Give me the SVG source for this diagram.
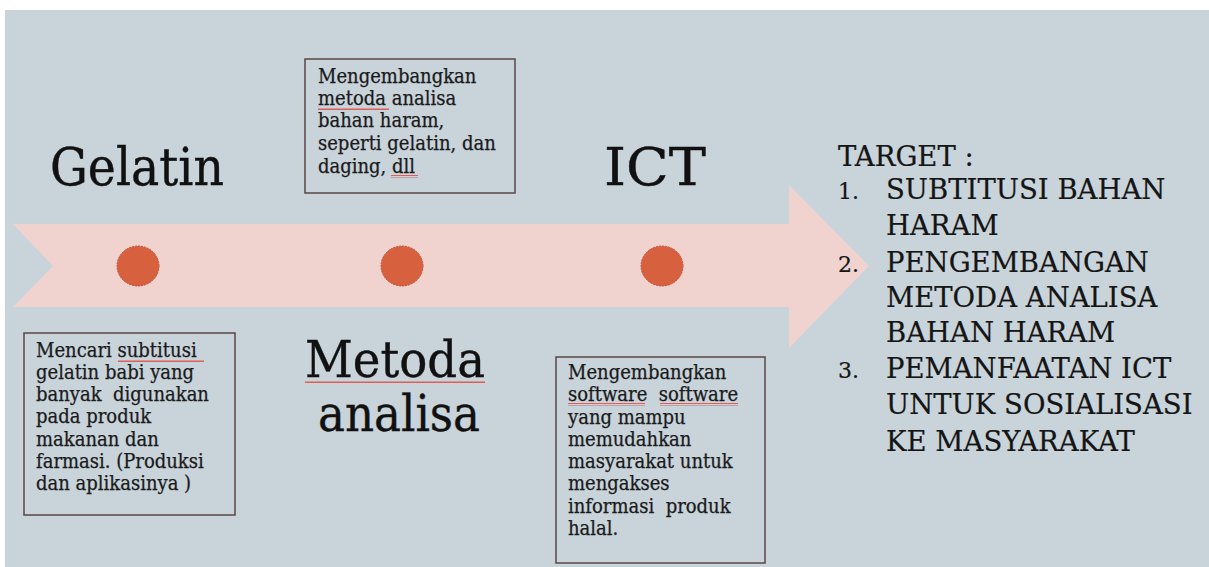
<svg xmlns="http://www.w3.org/2000/svg" width="1209" height="567" viewBox="0 0 1209 567">
<style>
.big{font-family:"DejaVu Serif","Liberation Serif",serif;fill:#111;stroke:#111;stroke-width:0.4;}
.box{fill:none;stroke:#5b4744;stroke-width:1.5;}
.bt{font-family:"DejaVu Serif Condensed","DejaVu Serif","Liberation Serif",serif;font-stretch:condensed;font-size:20px;fill:#1a1a1a;stroke:#1a1a1a;stroke-width:0.25;white-space:pre;}
.tg{font-family:"DejaVu Serif","Liberation Serif",serif;font-size:27.5px;fill:#151515;stroke:#151515;stroke-width:0.2;white-space:pre;}
.num{font-size:22px;}
.dot{fill:#d7603f;stroke:#c4553a;stroke-width:1;stroke-dasharray:2 1;}
.wave{fill:none;stroke:#e04a45;stroke-width:1;}
</style>
<defs>
<pattern id="wv" width="4" height="3" patternUnits="userSpaceOnUse"><path d="M0,2 L1,0.5 L2,2 L3,0.5 L4,2" class="wave"/></pattern>
</defs>
<rect x="0" y="0" width="1209" height="567" fill="#ffffff"/>
<rect x="5" y="10" width="1204" height="557" fill="#c8d3da"/>
<g id="arrow">
<polygon points="13,224 789,224 789,185 869,266 789,348 789,307 13,307 53,266" fill="#f0d3cf"/>
</g>
<g id="dots">
<ellipse class="dot" cx="138" cy="266" rx="21" ry="20"/>
<ellipse class="dot" cx="402" cy="266" rx="21" ry="20"/>
<ellipse class="dot" cx="662" cy="266" rx="21" ry="20"/>
</g>
<g id="label-gelatin"><text class="big" x="50" y="185" font-size="52" textLength="174" lengthAdjust="spacingAndGlyphs">Gelatin</text></g>
<g id="label-ict"><text class="big" x="604" y="185" font-size="52" textLength="102" lengthAdjust="spacingAndGlyphs">ICT</text></g>
<g id="label-metoda">
<text class="big" x="305" y="377" font-size="51" textLength="180" lengthAdjust="spacingAndGlyphs">Metoda</text>
<text class="big" x="318" y="431" font-size="51" textLength="162" lengthAdjust="spacingAndGlyphs">analisa</text>
<rect x="305" y="381" width="180" height="3" fill="url(#wv)"/>
</g>
<g id="box-analisa">
<rect class="box" x="305" y="59" width="210" height="134"/>
<text class="bt" x="318" y="83">Mengembangkan</text>
<text class="bt" x="318" y="105">metoda analisa</text>
<text class="bt" x="318" y="127">bahan haram,</text>
<text class="bt" x="318" y="150">seperti gelatin, dan</text>
<text class="bt" x="318" y="173">daging, dll</text>
<rect x="318" y="107" width="71" height="3" fill="url(#wv)"/>
<rect x="391" y="175" width="27" height="3" fill="url(#wv)"/>
</g>
<g id="box-gelatin">
<rect class="box" x="24" y="333" width="211" height="182"/>
<text class="bt" x="36" y="357">Mencari subtitusi</text>
<text class="bt" x="36" y="379">gelatin babi yang</text>
<text class="bt" x="36" y="401">banyak  digunakan</text>
<text class="bt" x="36" y="423">pada produk</text>
<text class="bt" x="36" y="446">makanan dan</text>
<text class="bt" x="36" y="468">farmasi. (Produksi</text>
<text class="bt" x="36" y="490">dan aplikasinya )</text>
<rect x="118" y="359" width="86" height="3" fill="url(#wv)"/>
</g>
<g id="box-ict">
<rect class="box" x="556" y="357" width="209" height="206"/>
<text class="bt" x="568" y="379">Mengembangkan</text>
<text class="bt" x="568" y="401">software  software</text>
<text class="bt" x="568" y="424">yang mampu</text>
<text class="bt" x="568" y="446">memudahkan</text>
<text class="bt" x="568" y="468">masyarakat untuk</text>
<text class="bt" x="568" y="490">mengakses</text>
<text class="bt" x="568" y="513">informasi  produk</text>
<text class="bt" x="568" y="535">halal.</text>
<rect x="568" y="403" width="77" height="3" fill="url(#wv)"/>
<rect x="660" y="403" width="78" height="3" fill="url(#wv)"/>
</g>
<g id="target">
<text class="tg" x="838" y="166">TARGET :</text>
<text class="tg num" x="838" y="199">1.</text>
<text class="tg" x="886" y="199">SUBTITUSI BAHAN</text>
<text class="tg" x="886" y="235">HARAM</text>
<text class="tg num" x="838" y="272">2.</text>
<text class="tg" x="886" y="272">PENGEMBANGAN</text>
<text class="tg" x="886" y="307">METODA ANALISA</text>
<text class="tg" x="886" y="342">BAHAN HARAM</text>
<text class="tg num" x="838" y="378">3.</text>
<text class="tg" x="886" y="378">PEMANFAATAN ICT</text>
<text class="tg" x="886" y="414">UNTUK SOSIALISASI</text>
<text class="tg" x="886" y="451">KE MASYARAKAT</text>
</g>
</svg>
